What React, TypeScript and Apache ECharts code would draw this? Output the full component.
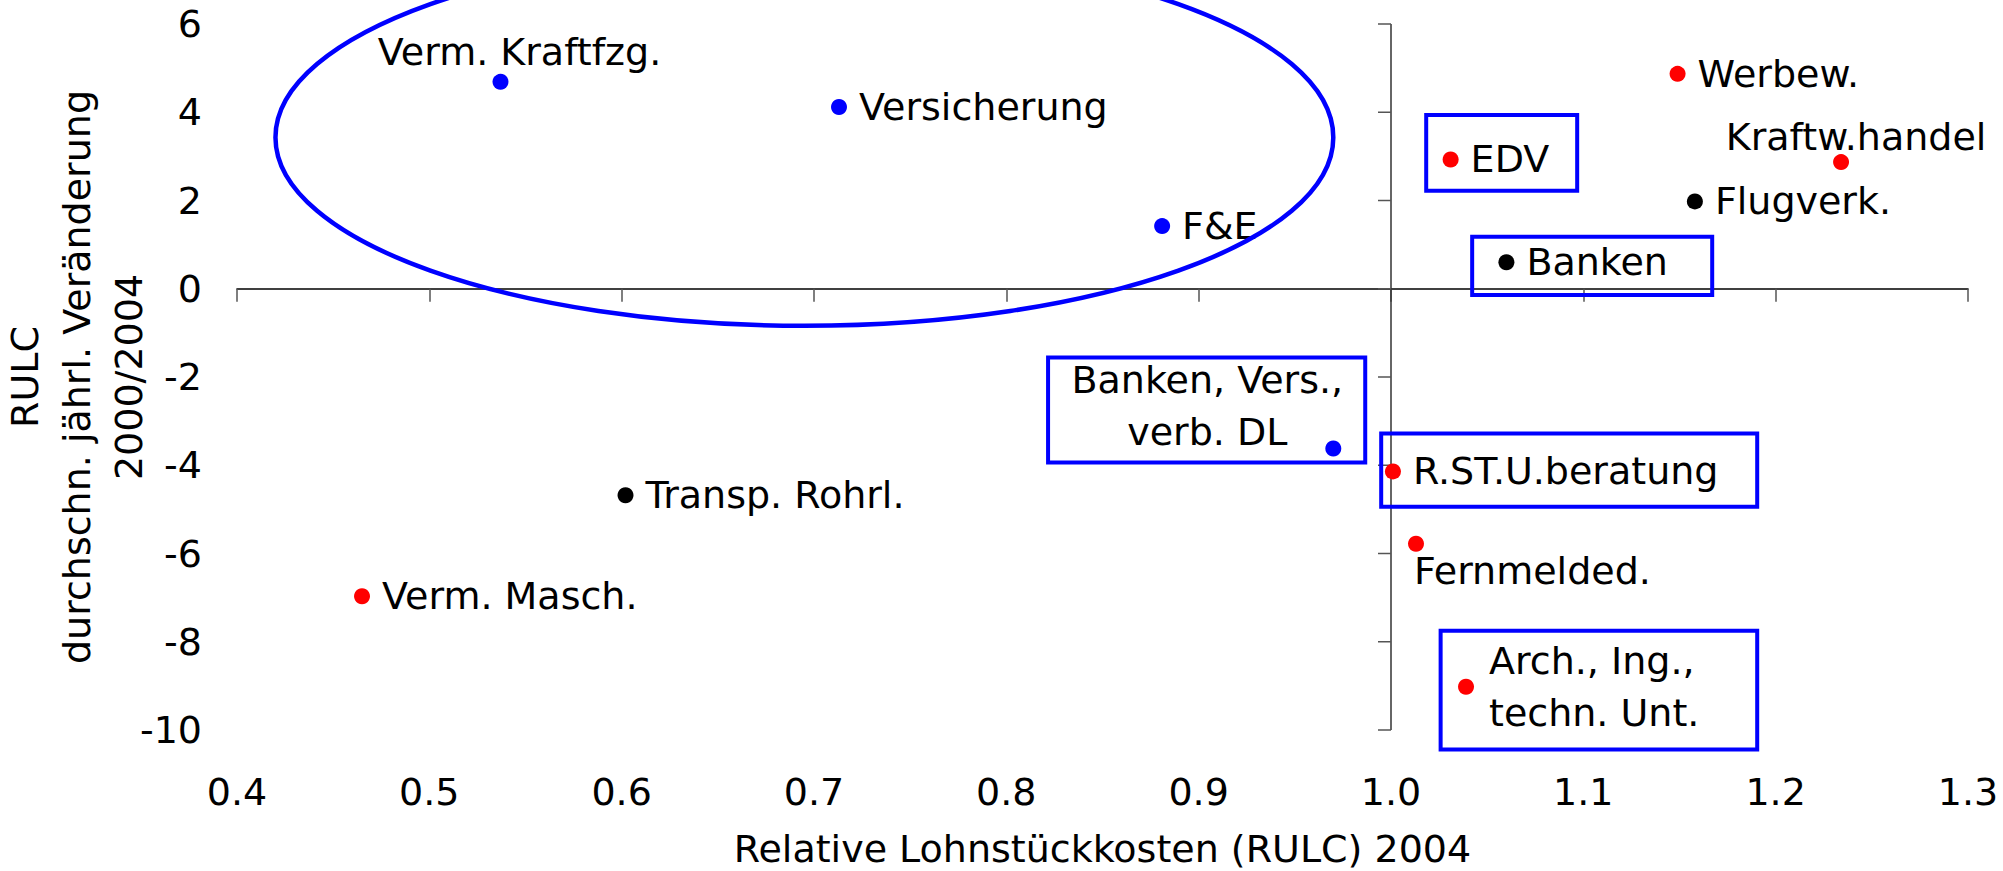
import React, { useEffect, useRef } from "react";
import * as echarts from "echarts";

// ---- data ----
const sectors = [
  "Verm. Kraftfzg.",
  "Versicherung",
  "F&E",
  "Banken, Vers.,\nverb. DL",
  "Transp. Rohrl.",
  "Verm. Masch.",
  "EDV",
  "Werbew.",
  "Kraftw.handel",
  "Flugverk.",
  "Banken",
  "R.ST.U.beratung",
  "Fernmelded.",
  "Arch., Ing.,\ntechn. Unt.",
];
const rulc2004 = [0.537, 0.713, 0.881, 0.97, 0.602, 0.465, 1.031, 1.149, 1.234, 1.158, 1.06, 1.001, 1.013, 1.039];
const rulcChange = [4.69, 4.12, 1.42, -3.62, -4.68, -6.97, 2.93, 4.87, 2.87, 1.98, 0.6, -4.14, -5.78, -9.02];
const sectorGroup = ["blue", "blue", "blue", "blue", "black", "red", "red", "red", "red", "black", "black", "red", "red", "red"];

const xMin = 0.4;
const xMax = 1.3;
const xStep = 0.1;
const yMin = -10;
const yMax = 6;
const yStep = 2;
const yTickValues = [6, 4, 2, 0, -2, -4, -6, -8, -10];
const verticalAxisAt = [1.0];

const xAxisTitle = "Relative Lohnstückkosten (RULC) 2004";
const yAxisTitle = "RULC\ndurchschn. jährl. Veränderung\n2000/2004";

// annotation shapes in data units
const highlightEllipse = [[0.695, 3.43, 0.275, 4.27]]; // cx, cy, rx, ry
const highlightBoxes = [
  [1.0183, 3.94, 1.0968, 2.22],
  [1.0422, 1.18, 1.167, -0.14],
  [0.8217, -1.56, 0.9866, -3.94],
  [0.9949, -3.28, 1.1904, -4.94],
  [1.0258, -7.75, 1.1904, -10.44],
];

// ---- styles ----
const groupColors: Record<string, string> = { blue: "#0000FF", red: "#FF0000", black: "#000000" };
const FONT = "DejaVu Sans";
const FS = 38;

const labelLayouts: Record<string, { align: string; offset: number[] }> = {
  "Verm. Kraftfzg.": { align: "center", offset: [19, -30] },
  "Kraftw.handel": { align: "center", offset: [15, -25] },
  "Fernmelded.": { align: "left", offset: [-2, 27] },
  "Banken, Vers.,\nverb. DL": { align: "center", offset: [-126, -42] },
  "Arch., Ing.,\ntechn. Unt.": { align: "left", offset: [23, 0] },
};
const defaultLayout = { align: "left", offset: [20, 0] };

export default function App() {
  const ref = useRef<HTMLDivElement>(null);

  useEffect(() => {
    if (!ref.current) return;
    const chart = echarts.init(ref.current, null, { renderer: "svg" });

    const points = sectors.map((name, i) => {
      const lay = labelLayouts[name] || defaultLayout;
      return {
        name,
        value: [rulc2004[i], rulcChange[i]],
        itemStyle: { color: groupColors[sectorGroup[i]], opacity: 1 },
        label: {
          show: true,
          formatter: name,
          position: "inside",
          align: lay.align,
          verticalAlign: "middle",
          offset: lay.offset,
          color: "#000",
          fontFamily: FONT,
          fontSize: FS,
          lineHeight: 52,
        },
      };
    });

    const option: any = {
      animation: false,
      backgroundColor: "#ffffff",
      textStyle: { fontFamily: FONT },
      grid: {
        left: 237,
        right: 35,
        top: 24,
        bottom: 141,
        containLabel: false,
        outerBoundsMode: "none",
      },
      xAxis: [
        {
          type: "value",
          position: "bottom",
          min: xMin,
          max: xMax,
          interval: xStep,
          axisLine: { show: false, onZero: false },
          axisTick: { show: false },
          splitLine: { show: false },
          axisLabel: {
            margin: 43,
            color: "#000",
            fontFamily: FONT,
            fontSize: FS,
            lineHeight: 38,
            formatter: (v: number) => v.toFixed(1),
          },
          name: xAxisTitle,
          nameLocation: "middle",
          nameGap: 100,
          nameMoveOverlap: false,
          nameTextStyle: { color: "#000", fontFamily: FONT, fontSize: FS, lineHeight: 38 },
        },
        {
          type: "value",
          position: "bottom",
          min: xMin,
          max: xMax,
          interval: xStep,
          axisLine: { show: true, onZero: true, lineStyle: { color: "#000", width: 1.5 } },
          axisTick: { show: true, inside: false, length: 13, lineStyle: { color: "#555", width: 1.5 } },
          axisLabel: { show: false },
          splitLine: { show: false },
        },
      ],
      yAxis: [
        {
          type: "value",
          min: yMin,
          max: yMax,
          interval: yStep,
          axisLine: { show: false, onZero: false },
          axisTick: { show: false },
          splitLine: { show: false },
          axisLabel: {
            margin: 35,
            color: "#000",
            fontFamily: FONT,
            fontSize: FS,
          },
          name: yAxisTitle,
          nameLocation: "middle",
          nameRotate: 90,
          nameGap: 82,
          nameMoveOverlap: false,
          nameTextStyle: { color: "#000", fontFamily: FONT, fontSize: FS, lineHeight: 52, align: "center" },
        },
      ],
      series: [
        {
          type: "custom",
          name: "vertical-axis",
          silent: true,
          clip: false,
          z: 1,
          data: verticalAxisAt.map((v) => [v]),
          renderItem: (params: any, api: any) => {
            const x = api.value(0);
            const top = api.coord([x, yMax]);
            const bot = api.coord([x, yMin]);
            const children: any[] = [
              {
                type: "line",
                shape: { x1: top[0], y1: top[1], x2: bot[0], y2: bot[1] },
                style: { stroke: "#333", lineWidth: 1.5 },
              },
            ];
            yTickValues.forEach((v) => {
              const p = api.coord([x, v]);
              children.push({
                type: "line",
                shape: { x1: p[0] - 13, y1: p[1], x2: p[0], y2: p[1] },
                style: { stroke: "#555", lineWidth: 1.5 },
              });
            });
            return { type: "group", children };
          },
        },
        {
          type: "custom",
          name: "boxes",
          silent: true,
          clip: false,
          z: 2,
          data: highlightBoxes,
          renderItem: (params: any, api: any) => {
            const p1 = api.coord([api.value(0), api.value(1)]);
            const p2 = api.coord([api.value(2), api.value(3)]);
            return {
              type: "rect",
              shape: {
                x: Math.min(p1[0], p2[0]),
                y: Math.min(p1[1], p2[1]),
                width: Math.abs(p2[0] - p1[0]),
                height: Math.abs(p2[1] - p1[1]),
              },
              style: { fill: "none", stroke: "#0000FF", lineWidth: 4 },
            };
          },
        },
        {
          type: "custom",
          name: "ellipse",
          silent: true,
          clip: false,
          z: 4,
          data: highlightEllipse,
          renderItem: (params: any, api: any) => {
            const c = api.coord([api.value(0), api.value(1)]);
            const s = api.size([api.value(2), api.value(3)]);
            return {
              type: "ellipse",
              shape: { cx: c[0], cy: c[1], rx: s[0], ry: s[1] },
              style: { fill: "none", stroke: "#0000FF", lineWidth: 4.5 },
            };
          },
        },
        {
          type: "scatter",
          name: "Sektoren",
          symbol: "circle",
          symbolSize: 16,
          z: 3,
          itemStyle: { opacity: 1 },
          data: points,
        },
      ],
    };

    chart.setOption(option);
    return () => chart.dispose();
  }, []);

  return (
    <div
      ref={ref}
      style={{ position: "fixed", left: 0, top: 0, width: 2003, height: 871, background: "#fff" }}
    />
  );
}
